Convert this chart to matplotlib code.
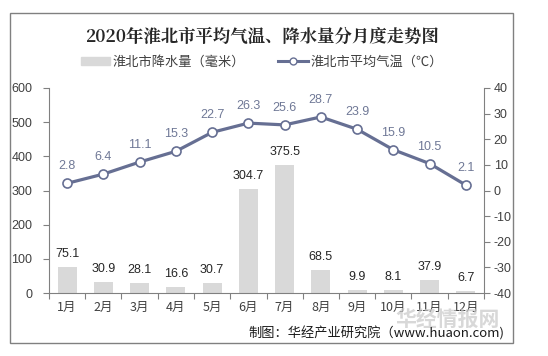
import matplotlib
matplotlib.use("Agg")
import matplotlib.pyplot as plt
from matplotlib.patches import Rectangle
from matplotlib.lines import Line2D

plt.rcParams['font.family'] = ['Noto Sans CJK SC', 'DejaVu Sans']
plt.rcParams['axes.unicode_minus'] = False

months = ["1月", "2月", "3月", "4月", "5月", "6月", "7月", "8月", "9月", "10月", "11月", "12月"]
rain = [75.1, 30.9, 28.1, 16.6, 30.7, 304.7, 375.5, 68.5, 9.9, 8.1, 37.9, 6.7]
temp = [2.8, 6.4, 11.1, 15.3, 22.7, 26.3, 25.6, 28.7, 23.9, 15.9, 10.5, 2.1]

bar_color = "#d9d9d9"
line_color = "#666f93"
text_color = "#404040"
num_font = ['Liberation Sans', 'DejaVu Sans']

fig = plt.figure(figsize=(5.48, 3.56), dpi=100)
W, H = 548, 356

# outer frame
fig.patches.append(Rectangle((10 / W, 1 - 343 / H), 503 / W, 330 / H,
                             transform=fig.transFigure, fill=False,
                             edgecolor="#808080", linewidth=1))

ax = fig.add_axes([49 / W, 1 - 293 / H, 435 / W, 205 / H])
ax2 = ax.twinx()

x = list(range(len(months)))
ax.bar(x, rain, width=0.53, color=bar_color, zorder=2)
for xi, v in zip(x, rain):
    ax.text(xi, v + 38, f"{v}", ha="center", va="center", fontsize=9,
            color="#262626", family=num_font)

ax2.plot(x, temp, color=line_color, linewidth=2.3, marker="o", markersize=6.5,
         markerfacecolor="white", markeredgecolor=line_color,
         markeredgewidth=1.2, zorder=3)
for xi, v in zip(x, temp):
    ax2.text(xi, v + 6.6, f"{v}", ha="center", va="center", fontsize=9,
             color="#6f7896", family=num_font)

ax.set_xlim(-0.5, 11.5)
ax.set_ylim(0, 600)
ax.set_yticks(range(0, 601, 100))
ax2.set_ylim(-40, 40)
ax2.set_yticks(range(-40, 41, 10))

ax.set_xticks([i - 0.5 for i in range(13)], minor=False)
ax.set_xticklabels([])
ax.set_xticks(x, minor=True)
ax.set_xticklabels(months, minor=True)
ax.tick_params(axis="x", which="major", length=4, color="#808080")
ax.tick_params(axis="x", which="minor", length=0, pad=6, labelsize=9,
               labelcolor=text_color)
ax.tick_params(axis="y", length=4, color="#808080", labelsize=9,
               labelcolor=text_color, pad=8)
ax2.tick_params(axis="y", length=4, color="#808080", labelsize=9,
                labelcolor=text_color, pad=3)
for lab in ax.get_yticklabels() + ax2.get_yticklabels():
    lab.set_family(num_font)

for a in (ax, ax2):
    for s in ("top", "right"):
        a.spines[s].set_visible(False)
    a.spines["bottom"].set_color("#808080")
    a.spines["left"].set_color("#808080")
ax2.spines["left"].set_visible(False)
ax2.spines["right"].set_visible(True)
ax2.spines["right"].set_color("#808080")
ax2.spines["bottom"].set_visible(False)

fig.text(262 / W, 1 - 37 / H, "2020年淮北市平均气温、降水量分月度走势图",
         ha="center", va="center", fontsize=12.5, fontweight="bold",
         color="#262626", family=['Noto Serif CJK SC', 'Noto Sans CJK SC', 'DejaVu Sans'])

handles = [
    Rectangle((0, 0), 1, 1, color=bar_color),
    Line2D([], [], color=line_color, linewidth=2.2, marker="o", markersize=5,
           markerfacecolor="white", markeredgecolor=line_color),
]
fig.legend(handles, ["淮北市降水量（毫米）", "淮北市平均气温（℃）"],
           loc="center", bbox_to_anchor=(262 / W, 1 - 62 / H), ncol=2,
           frameon=False, fontsize=9.5, handlelength=2.2, handleheight=0.5,
           columnspacing=2.5, handletextpad=0.2, labelcolor=text_color)

fig.text(500 / W, 1 - 319 / H, "华经情报网", ha="right", va="center",
         fontsize=15, fontweight="bold", color="#c8c8c8", alpha=0.7)
fig.text(504 / W, 1 - 333 / H, "制图：华经产业研究院（www.huaon.com)",
         ha="right", va="center", fontsize=9.5, color="#1a1a1a")

fig.savefig("out.png", dpi=100)
